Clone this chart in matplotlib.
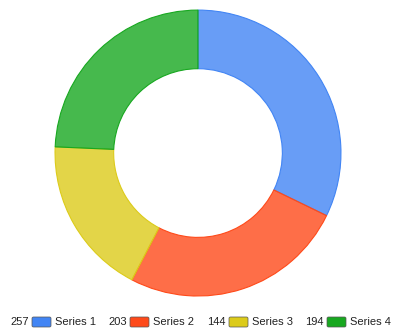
import matplotlib.pyplot as plt
from matplotlib.colors import to_rgba
from matplotlib.patches import FancyBboxPatch

labels = ["Series 1", "Series 2", "Series 3", "Series 4"]
values = [257, 203, 144, 194]
colors = ["#4285f4", "#fe4a1a", "#dccb1a", "#18a820"]

fig = plt.figure(figsize=(3.96, 3.36), dpi=100)
ax = fig.add_axes([0.139, 0.119, 0.722, 0.851])

wedges, _ = ax.pie(values, startangle=90, counterclock=False, radius=1.0,
                   wedgeprops=dict(width=0.41, linewidth=0.8))
for w, c in zip(wedges, colors):
    w.set_facecolor(to_rgba(c, 0.8))
    w.set_edgecolor(c)
ax.set_aspect("equal")
ax.set_xlim(-1.0, 1.0)
ax.set_ylim(-1.0, 1.0)
ax.axis("off")

# legend: value, swatch, label
W, H = 396, 336
starts = [10, 108, 207, 305]
y = 322
for x0, v, lab, c in zip(starts, values, labels, colors):
    fig.text(x0 / W, 1 - y / H, str(v), fontsize=8, va="center", ha="left",
             family="Liberation Sans", color="#222222")
    fig.patches.append(FancyBboxPatch(((x0 + 22) / W, 1 - 327 / H), 19 / W, 10 / H,
                                      boxstyle="round,pad=0,rounding_size=0.004",
                                      transform=fig.transFigure, facecolor=c,
                                      edgecolor="#555555", linewidth=0.5))
    fig.text((x0 + 45) / W, 1 - y / H, lab, fontsize=8, va="center", ha="left",
             family="Liberation Sans", color="#222222")

fig.savefig("out.png", dpi=100)
